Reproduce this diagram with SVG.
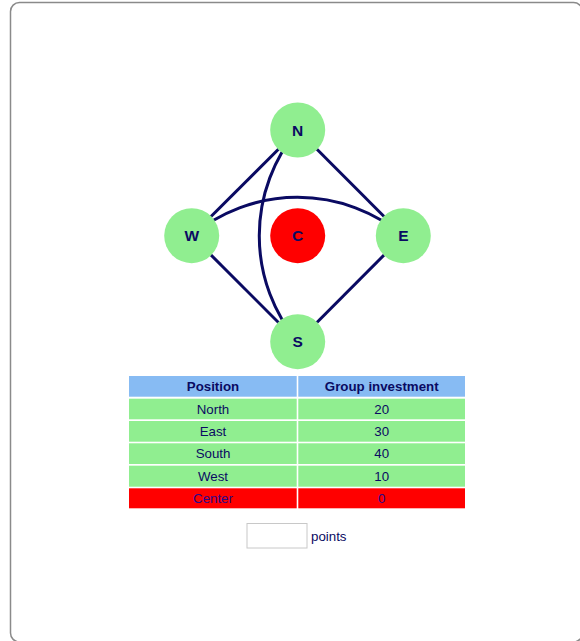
<svg xmlns="http://www.w3.org/2000/svg" width="580" height="641" viewBox="0 0 580 641">
<style>
.frame{fill:#fff;stroke:#8a8a8a;stroke-width:1.5}
.edge{fill:none;stroke:#0a0a62;stroke-width:3}
.node{fill:#90ee90}
.center{fill:#ff0000}
.lbl{font-family:"Liberation Sans",Arial,sans-serif;font-weight:bold;font-size:15.5px;fill:#0a0a62;text-anchor:middle}
.hd{fill:#87bbf3}
.gr{fill:#90ee90}
.rd{fill:#ff0000}
.th{font-family:"Liberation Sans",Arial,sans-serif;font-weight:bold;font-size:13.3px;fill:#0a0a62;text-anchor:middle}
.td{font-family:"Liberation Sans",Arial,sans-serif;font-size:13.3px;fill:#0a0a62;text-anchor:middle}
.tdc{font-family:"Liberation Sans",Arial,sans-serif;font-size:13.3px;fill:#2a0a8a;text-anchor:middle}
</style>
<rect class="frame" x="10.5" y="2.5" width="572" height="639.5" rx="9" ry="9"/>
<g id="connectors">
<line class="edge" x1="297.7" y1="130" x2="191.7" y2="235.7"/>
<line class="edge" x1="297.7" y1="130" x2="403.3" y2="235.7"/>
<line class="edge" x1="191.7" y1="235.7" x2="297.7" y2="341.7"/>
<line class="edge" x1="403.3" y1="235.7" x2="297.7" y2="341.7"/>
<path class="edge" d="M191.7,235.7 A165,165 0 0 1 403.3,235.7"/>
<path class="edge" d="M297.7,341.7 A165,165 0 0 1 297.7,130"/>
</g>
<g id="node-N"><circle class="node" cx="297.7" cy="130" r="27.5"/><text class="lbl" x="297.7" y="135.6">N</text></g>
<g id="node-W"><circle class="node" cx="191.7" cy="235.7" r="27.5"/><text class="lbl" x="191.7" y="241.3">W</text></g>
<g id="node-E"><circle class="node" cx="403.3" cy="235.7" r="27.5"/><text class="lbl" x="403.3" y="241.3">E</text></g>
<g id="node-S"><circle class="node" cx="297.7" cy="341.7" r="27.5"/><text class="lbl" x="297.7" y="347.3">S</text></g>
<g id="node-C"><circle class="center" cx="297.7" cy="235.7" r="27.5"/><text class="lbl" x="297.7" y="241.3">C</text></g>
<g id="table">
<rect class="hd" x="129" y="376" width="167.7" height="20.7"/>
<rect class="hd" x="298.3" y="376" width="166.7" height="20.7"/>
<text class="th" x="213" y="390.6">Position</text>
<text class="th" x="381.7" y="390.6">Group investment</text>
<rect class="gr" x="129" y="398.7" width="167.7" height="20.6"/>
<rect class="gr" x="298.3" y="398.7" width="166.7" height="20.6"/>
<text class="td" x="213" y="413.6">North</text>
<text class="td" x="381.7" y="413.6">20</text>
<rect class="gr" x="129" y="421" width="167.7" height="20.7"/>
<rect class="gr" x="298.3" y="421" width="166.7" height="20.7"/>
<text class="td" x="213" y="435.9">East</text>
<text class="td" x="381.7" y="435.9">30</text>
<rect class="gr" x="129" y="443.3" width="167.7" height="20.7"/>
<rect class="gr" x="298.3" y="443.3" width="166.7" height="20.7"/>
<text class="td" x="213" y="458.3">South</text>
<text class="td" x="381.7" y="458.3">40</text>
<rect class="gr" x="129" y="465.7" width="167.7" height="21"/>
<rect class="gr" x="298.3" y="465.7" width="166.7" height="21"/>
<text class="td" x="213" y="480.7">West</text>
<text class="td" x="381.7" y="480.7">10</text>
<rect class="rd" x="129" y="488.3" width="167.7" height="20"/>
<rect class="rd" x="298.3" y="488.3" width="166.7" height="20"/>
<text class="tdc" x="213" y="502.9">Center</text>
<text class="tdc" x="381.7" y="502.9">0</text>
</g>
<g id="points-input">
<rect x="247" y="523.5" width="60" height="24.5" fill="#fff" stroke="#c8c8c8" stroke-width="1"/>
<text class="td" x="311" y="541" style="text-anchor:start">points</text>
</g>
</svg>
